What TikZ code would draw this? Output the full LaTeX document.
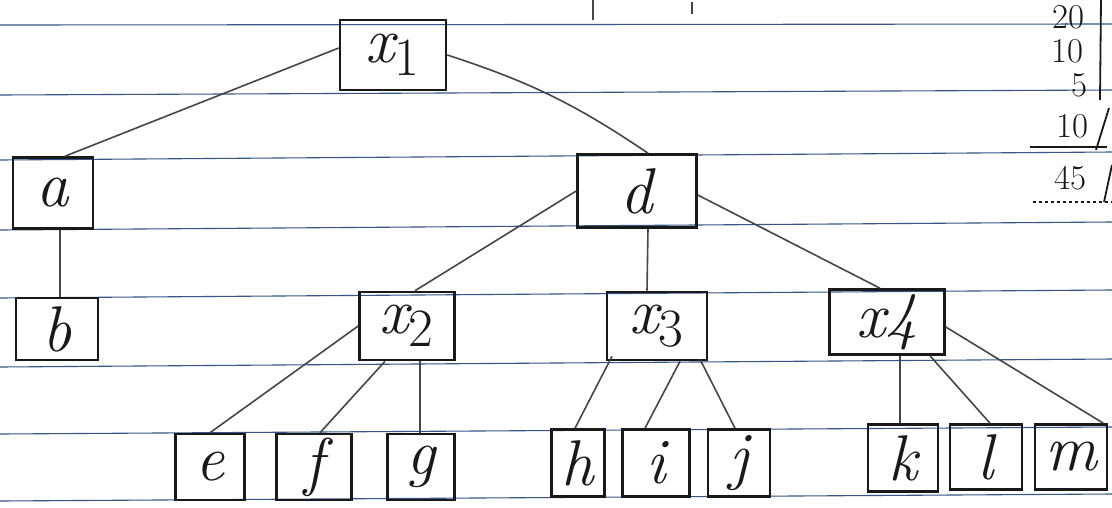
\documentclass[tikz,border=0pt]{standalone}
\usepackage{tikz}
\usepackage{graphicx}
\definecolor{rule}{RGB}{55,85,135}
\definecolor{ink}{RGB}{25,25,25}
\definecolor{edge}{RGB}{70,70,70}
\newcommand{\subidx}[1]{\textsubscript{\upshape #1}}
\newcommand{\lbl}[1]{\scalebox{2.6}{\itshape #1}}
\newcommand{\tal}[1]{\scalebox{1.4}{#1}}
\tikzset{
  box/.style={draw=ink, line width=2.6pt, rectangle, inner sep=0pt,
              font=\Huge, text=ink},
  leaf/.style={box},
  link/.style={draw=edge, line width=1.6pt},
  ruled/.style={draw=rule, line width=1.1pt},
  tally/.style={font=\Huge, text=ink, inner sep=0pt},
}
\begin{document}
\begin{tikzpicture}[x=1pt,y=-1pt]
\useasboundingbox (0,0) rectangle (1112,507);
\fill[white] (0,0) rectangle (1112,507);
% ruled paper lines (slightly tilted sheet)
\foreach \yl/\yr in {25/24,95/90,160/152,230/222,298/290,367/359,434/427,501/494}
  \draw[ruled] (0,\yl) -- (1112,\yr);

% nodes
\node[box, minimum width=106pt, minimum height=70pt] (x1) at (393,55) {\lbl{x\subidx{1}}};
\node[box, minimum width=80pt, minimum height=71pt] (a) at (53,193) {\lbl{a}};
\node[box, minimum width=82pt, minimum height=62pt] (b) at (57,329) {\lbl{b}};
\node[box, minimum width=119pt, minimum height=73pt] (d) at (637,191) {\lbl{d}};
\node[box, minimum width=95pt, minimum height=68pt] (x2) at (407,326) {\lbl{x\subidx{2}}};
\node[box, minimum width=100pt, minimum height=68pt] (x3) at (657,326) {\lbl{x\subidx{3}}};
\node[box, minimum width=115pt, minimum height=65pt] (x4) at (887,322) {\lbl{x4}};
\node[leaf, minimum width=69pt, minimum height=66pt] (e) at (210,467) {\lbl{e}};
\node[leaf, minimum width=75pt, minimum height=66pt] (f) at (314,467) {\lbl{f}};
\node[leaf, minimum width=67pt, minimum height=66pt] (g) at (421,467) {\lbl{g}};
\node[leaf, minimum width=53pt, minimum height=67pt] (h) at (578,463) {\lbl{h}};
\node[leaf, minimum width=67pt, minimum height=67pt] (i) at (656,463) {\lbl{i}};
\node[leaf, minimum width=62pt, minimum height=67pt] (j) at (739,463) {\lbl{j}};
\node[leaf, minimum width=70pt, minimum height=67pt] (k) at (903,458) {\lbl{k}};
\node[leaf, minimum width=72pt, minimum height=65pt] (l) at (986,457) {\lbl{l}};
\node[leaf, minimum width=72pt, minimum height=65pt] (m) at (1071,457) {\lbl{m}};

% connectors
\draw[link] ([yshift=7pt]x1.west) -- ([xshift=12pt]a.north);
\draw[link] (x1.east) to[bend left=8] ([xshift=11pt]d.north);
\draw[link] ([xshift=7pt]a.south) -- ([xshift=3pt]b.north);
\draw[link] (d.west) -- ([xshift=8pt]x2.north);
\draw[link] ([xshift=11pt]d.south) -- ([xshift=-10pt]x3.north);
\draw[link] ([yshift=-4pt]d.east) -- ([xshift=-7pt]x4.north);
\draw[link] (x2.west) -- (e.north);
\draw[link] ([xshift=-22pt]x2.south) -- ([xshift=6pt]f.north);
\draw[link] ([xshift=13pt]x2.south) -- ([xshift=-1pt]g.north);
\draw[link] ([xshift=-45pt,yshift=5pt]x3.south) -- ([xshift=-3pt]h.north);
\draw[link] ([xshift=23pt]x3.south) -- ([xshift=-11pt]i.north);
\draw[link] ([xshift=43pt,yshift=2pt]x3.south) -- ([xshift=-4pt]j.north);
\draw[link] ([xshift=13pt]x4.south) -- ([xshift=-3pt]k.north);
\draw[link] ([xshift=43pt]x4.south) -- ([xshift=4pt]l.north);
\draw[link] ([yshift=-5pt]x4.east) -- ([xshift=-5pt]m.north east);

% tally on the right edge
\node[tally] (t1) at (1068,17) {\tal{20}};
\node[tally] (t2) at (1067,51) {\tal{10}};
\node[tally] (t3) at (1079,85) {\tal{5}};
\node[tally] (t4) at (1072,126) {\tal{10}};
\node[tally] (t5) at (1070,178) {\tal{45}};
\coordinate (u1a) at (1030,147);
\coordinate (u1b) at (1107,147);
\coordinate (u2a) at (1033,202);
\coordinate (u2b) at (1112,202);
\draw[ink, line width=1.3pt] (u1a) -- (u1b);
\draw[ink, line width=1.3pt, dashed] (u2a) -- (u2b);
\coordinate (s1) at (1101,0);
\coordinate (s2) at (1100,100);
\coordinate (s3) at (1096,150);
\coordinate (s4) at (1109,108);
\coordinate (s5) at (1104,202);
\coordinate (s6) at (1112,165);
\draw[ink, line width=1.8pt] (s1) -- (s2);
\draw[ink, line width=1.8pt] (s3) -- (s4);
\draw[ink, line width=1.8pt] (s5) -- (s6);
% faint marks at top
\coordinate (p1) at (593,0);
\coordinate (p2) at (593,20);
\coordinate (p3) at (692,2);
\coordinate (p4) at (692,14);
\draw[edge, line width=1.2pt] (p1) -- (p2);
\draw[edge, line width=1.2pt] (p3) -- (p4);
\end{tikzpicture}
\end{document}
